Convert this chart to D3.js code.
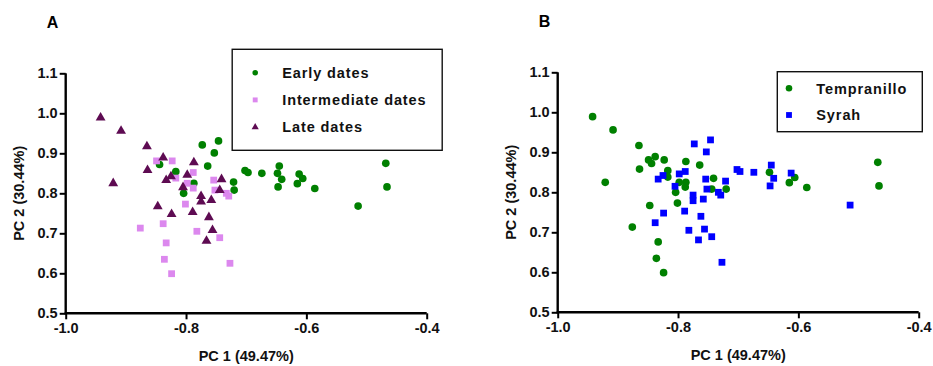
<!DOCTYPE html>
<html>
<head>
<meta charset="utf-8">
<script src="https://cdn.jsdelivr.net/npm/d3@7"></script>
<style>
  body { margin: 0; background: #fff; }
  svg { display: block; font-family: "Liberation Sans", Arial, sans-serif; }
</style>
</head>
<body>
<div id="chart"></div>
<script>
// PCA scores: [PC1, PC2, variety]  (T = Tempranillo, S = Syrah)
const earlyDates = [
  [-0.844, 0.872, 'T'], [-0.817, 0.854, 'T'], [-0.773, 0.921, 'S'], [-0.746, 0.931, 'S'],
  [-0.753, 0.901, 'S'], [-0.764, 0.868, 'T'], [-0.721, 0.828, 'S'], [-0.720, 0.808, 'T'],
  [-0.787, 0.825, 'T'], [-0.804, 0.800, 'T'], [-0.702, 0.857, 'S'], [-0.697, 0.852, 'S'],
  [-0.674, 0.850, 'S'], [-0.645, 0.868, 'S'], [-0.648, 0.850, 'T'], [-0.641, 0.835, 'S'],
  [-0.647, 0.816, 'S'], [-0.612, 0.848, 'S'], [-0.606, 0.837, 'T'], [-0.615, 0.824, 'T'],
  [-0.586, 0.812, 'T'], [-0.514, 0.768, 'S'], [-0.468, 0.875, 'T'], [-0.466, 0.816, 'T']
];
const intermediateDates = [
  [-0.849, 0.881, 'T'], [-0.823, 0.881, 'T'], [-0.788, 0.852, 'S'], [-0.817, 0.838, 'T'],
  [-0.798, 0.825, 'T'], [-0.788, 0.813, 'T'], [-0.754, 0.833, 'S'], [-0.752, 0.808, 'S'],
  [-0.733, 0.800, 'S'], [-0.729, 0.793, 'S'], [-0.801, 0.773, 'T'], [-0.876, 0.713, 'T'],
  [-0.838, 0.724, 'S'], [-0.782, 0.705, 'S'], [-0.744, 0.689, 'S'], [-0.833, 0.676, 'T'],
  [-0.836, 0.635, 'T'], [-0.727, 0.625, 'S'], [-0.824, 0.599, 'T']
];
const lateDates = [
  [-0.942, 0.989, 'T'], [-0.908, 0.956, 'T'], [-0.865, 0.917, 'T'], [-0.838, 0.889, 'T'],
  [-0.787, 0.877, 'T'], [-0.864, 0.858, 'T'], [-0.921, 0.825, 'T'], [-0.798, 0.846, 'S'],
  [-0.825, 0.842, 'S'], [-0.833, 0.833, 'S'], [-0.805, 0.815, 'S'], [-0.741, 0.835, 'T'],
  [-0.744, 0.808, 'T'], [-0.775, 0.793, 'S'], [-0.775, 0.779, 'S'], [-0.758, 0.783, 'S'],
  [-0.847, 0.767, 'T'], [-0.824, 0.748, 'S'], [-0.789, 0.753, 'S'], [-0.762, 0.740, 'S'],
  [-0.756, 0.708, 'S'], [-0.766, 0.681, 'S']
];

const xTicks = [-1.0, -0.8, -0.6, -0.4];
const yTicks = [0.5, 0.6, 0.7, 0.8, 0.9, 1.0, 1.1];
const xTitle = 'PC 1 (49.47%)';
const yTitle = 'PC 2 (30.44%)';

const allPoints = earlyDates.concat(intermediateDates, lateDates);
const tempranillo = allPoints.filter(d => d[2] === 'T');
const syrah = allPoints.filter(d => d[2] === 'S');

const svg = d3.select('#chart').append('svg')
  .attr('width', 933)
  .attr('height', 366);

const plotW = 361, plotH = 240;

const sym = {
  circle: d3.symbol().type(d3.symbolCircle),
  square: d3.symbol().type(d3.symbolSquare),
  triangle: d3.symbol().type(d3.symbolTriangle)
};

function drawPanel(left, top, letter, groups, legend) {
  const g = svg.append('g').attr('transform', `translate(${left}, ${top})`);
  const x = d3.scaleLinear().domain([-1.0, -0.4]).range([0, plotW]);
  const y = d3.scaleLinear().domain([0.5, 1.1]).range([plotH, 0]);

  // points
  groups.forEach(grp => {
    g.append('g').selectAll('path')
      .data(grp.data)
      .enter()
      .append('path')
      .attr('d', sym[grp.shape].size(grp.size)())
      .attr('transform', d => `translate(${x(d[0])}, ${y(d[1])})`)
      .attr('fill', grp.color);
  });

  // axes
  const xAxis = g.append('g')
    .attr('transform', `translate(0, ${plotH})`)
    .call(d3.axisBottom(x).tickValues(xTicks).tickFormat(d3.format('.1f')).tickSizeOuter(0).tickSize(6).tickPadding(3));
  const yAxis = g.append('g')
    .call(d3.axisLeft(y).tickValues(yTicks).tickFormat(d3.format('.1f')).tickSizeOuter(0).tickSize(6).tickPadding(2));
  [xAxis, yAxis].forEach(a => {
    a.select('.domain').attr('stroke', '#000').attr('stroke-width', 2.4);
    a.selectAll('.tick line').attr('stroke', '#000').attr('stroke-width', 2);
    a.selectAll('.tick text')
      .attr('fill', '#111')
      .style('font-size', '14.5px')
      .style('font-weight', 'bold');
  });
  xAxis.selectAll('.tick text').text(d => d3.format('.1f')(d).replace('−', '-'));
  xAxis.select('.domain').attr('d', `M-1,0H${plotW}`);
  yAxis.select('.domain').attr('d', `M0,0V${plotH + 1}`);

  // titles
  g.append('text')
    .attr('x', plotW / 2).attr('y', plotH + 48)
    .attr('text-anchor', 'middle')
    .style('font-size', '14.5px').style('font-weight', 'bold').attr('fill', '#111')
    .text(xTitle);
  g.append('text')
    .attr('transform', `translate(${-42}, ${plotH / 2}) rotate(-90)`)
    .attr('text-anchor', 'middle')
    .style('font-size', '14.5px').style('font-weight', 'bold').attr('fill', '#111')
    .text(yTitle);
  g.append('text')
    .attr('x', -19).attr('y', -45)
    .style('font-size', '16px').style('font-weight', 'bold').attr('fill', '#000')
    .text(letter);

  // legend
  const lg = g.append('g').attr('transform', `translate(${legend.x}, ${legend.y})`);
  lg.append('rect')
    .attr('width', legend.w).attr('height', legend.h)
    .attr('fill', '#fff').attr('stroke', '#111').attr('stroke-width', 1.4);
  const row = lg.selectAll('.row')
    .data(groups)
    .enter()
    .append('g')
    .attr('transform', (d, i) => `translate(0, ${legend.first + i * legend.step})`);
  row.append('path')
    .attr('d', d => sym[d.shape].size(d.legendSize)())
    .attr('transform', `translate(${legend.mx}, 0)`)
    .attr('fill', d => d.color);
  row.append('text')
    .attr('x', legend.tx).attr('dy', '0.36em')
    .style('font-size', '14.5px').style('font-weight', 'bold')
    .style('letter-spacing', '0.9px').attr('fill', '#111')
    .text(d => d.label);
}

drawPanel(65.7, 73.3, 'A', [
  { label: 'Early dates', data: earlyDates, shape: 'circle', color: '#008000', size: 46, legendSize: 24 },
  { label: 'Intermediate dates', data: intermediateDates, shape: 'square', color: '#dc88ee', size: 46, legendSize: 24 },
  { label: 'Late dates', data: lateDates, shape: 'triangle', color: '#5e0b52', size: 42, legendSize: 22 }
], { x: 166.5, y: -24, w: 210, h: 101, first: 23.4, step: 27.2, mx: 23, tx: 50 });

drawPanel(557.7, 72.3, 'B', [
  { label: 'Tempranillo', data: tempranillo, shape: 'circle', color: '#008000', size: 46, legendSize: 34 },
  { label: 'Syrah', data: syrah, shape: 'square', color: '#0000ff', size: 46, legendSize: 34 }
], { x: 219.6, y: -0.6, w: 145, h: 60, first: 16.6, step: 26.7, mx: 11.7, tx: 39 });
</script>
</body>
</html>
